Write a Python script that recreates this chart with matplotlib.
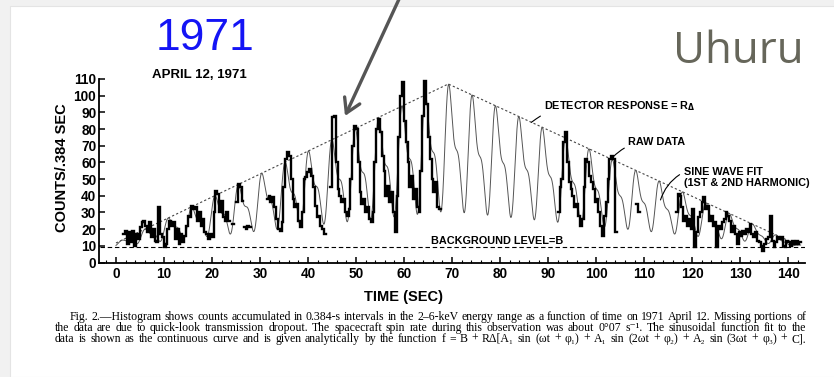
import matplotlib.pyplot as plt
import numpy as np
from matplotlib.patches import Rectangle

W, H = 834, 377

# histogram bin width (s) and background level B (counts / .384 s)
BIN = 0.384
BACKGROUND = 9.3

# detector response R_delta (triangle)
resp_t = [0.0, 69.2, 142.0]
resp_v = [11.7, 107.0, 10.5]

# sine wave fit, 1st & 2nd harmonic
spin_period = 4.87
peak_t0 = 69.3
harm_amp = [1.0, 0.45]
fit_floor = 0.22
fit_span = [0.0, 142.6]

# raw data: start time of each stretch and counts per 0.384-s bin
raw_start_1 = 1.5
raw_counts_1 = [17, 19, 11, 18, 12, 19, 10, 17, 14, 21, 24, 25, 22, 18, 24, 15,
                20, 13, 12, 33, 17, 15, 9, 11, 20, 25, 22, 24, 14, 20, 11, 17,
                12, 16, 22, 28, 27, 34, 32, 33, 25, 30, 22, 26, 18, 17, 14, 17,
                15, 30, 43, 41, 30, 37, 27, 25, 30, 25]
raw_start_2 = 24.1
raw_counts_2 = [23]
raw_start_3 = 25.0
raw_counts_3 = [36, 47, 45, 37]
raw_start_4 = 26.6
raw_counts_4 = [21, 20, 22, 21]
raw_start_5 = 31.4
raw_counts_5 = [38, 40, 36, 39, 33, 26, 20, 19, 24, 45, 62, 66, 64, 50, 38, 33,
                35, 25, 21, 30, 50, 51, 54, 56, 52, 45, 34, 27, 28, 22, 20, 17]
raw_start_6 = 44.6
raw_counts_6 = [45, 87, 88, 60, 44, 40, 36, 38, 30, 28, 32, 50, 70, 82, 80, 60,
                42, 35, 38, 30, 33, 26, 24, 30, 60, 80, 86, 78, 64, 55, 40, 46,
                36, 42, 30, 18, 40, 75, 100, 108, 85, 72, 60, 45, 52, 38, 44, 33,
                30, 55, 88, 109, 95, 75, 62, 50, 42, 48, 33, 32]
raw_start_7 = 92.0
raw_counts_7 = [30, 45, 50, 72, 78, 60, 48, 44, 40, 33, 35, 28, 22, 26, 45, 62,
                60, 52, 48, 44, 36, 38, 30, 22, 16, 28, 36, 50, 62, 64, 62, 18]
raw_start_8 = 108.4
raw_counts_8 = [35, 30]
raw_start_9 = 116.6
raw_counts_9 = [30, 41, 40, 33, 25, 28, 22, 26, 20, 32, 9, 18, 27, 30, 36, 39,
                32, 34, 25, 28, 22, 24, 9, 22, 20, 24, 26, 30, 28, 25, 18, 22,
                17, 11, 18, 16, 19, 17, 20, 18, 23, 17, 15, 18, 13, 12, 10, 7,
                11, 14, 15, 28, 13, 9, 12, 15, 14, 15, 10, 9, 13, 12, 10, 13,
                11, 13, 11, 12]

raw_starts = [raw_start_1, raw_start_2, raw_start_3, raw_start_4, raw_start_5,
              raw_start_6, raw_start_7, raw_start_8, raw_start_9]
raw_counts = [raw_counts_1, raw_counts_2, raw_counts_3, raw_counts_4, raw_counts_5,
              raw_counts_6, raw_counts_7, raw_counts_8, raw_counts_9]

x_ticks = list(range(0, 141, 10))
y_ticks = list(range(0, 111, 10))

caption = [
    "Fig. 2.\u2014Histogram shows counts accumulated in 0.384-s intervals in the 2\u20136-keV energy range as a function of time on 1971 April 12. Missing portions of",
    "the data are due to quick-look transmission dropout. The spacecraft spin rate during this observation was about 0\u00b007 s\u207b\u00b9. The sinusoidal function fit to the",
    "data is shown as the continuous curve and is given analytically by the function f = B + R\u0394[A\u2081 sin (\u03c9t + \u03c6\u2081) + A\u2081 sin (2\u03c9t + \u03c6\u2082) + A\u2082 sin (3\u03c9t + \u03c6\u2083) + C].",
]

sans = ['Liberation Sans', 'DejaVu Sans']
serif = ['Liberation Serif', 'DejaVu Serif']


def px(x, y):
    return x / W, 1 - y / H


fig = plt.figure(figsize=(W / 100, H / 100), dpi=100, facecolor='#f1f1f1')
fig.patches.append(Rectangle(px(10, 377), 1, (377 - 6) / H, transform=fig.transFigure,
                             facecolor='white', edgecolor='#e4e4e4', lw=0.8, zorder=-5))

ax = fig.add_axes([99 / W, 1 - 262.5 / H, (805 - 99) / W, (262.5 - 79) / H])
ax.set_facecolor('none')
ax.set_xlim(-3.54, 143.5)
ax.set_ylim(0, 110)

# fitted curve
t = np.linspace(fit_span[0], fit_span[1], 4000)
ph = np.linspace(0, 2 * np.pi, 2000)
h = sum(a * np.sin((k + 1) * ph) for k, a in enumerate(harm_amp))
ph_max = ph[np.argmax(h)]
omega = 2 * np.pi / spin_period
hh = sum(a * np.sin((k + 1) * (omega * (t - peak_t0) + ph_max)) for k, a in enumerate(harm_amp))
hn = (hh - h.min()) / (h.max() - h.min())
env = np.interp(t, resp_t, resp_v)
fit = BACKGROUND + (env - BACKGROUND) * (fit_floor + (1 - fit_floor) * hn)
ax.plot(t, fit, color='#555555', lw=0.7, zorder=2)

# raw histogram
for start, counts in zip(raw_starts, raw_counts):
    edges = start + BIN * np.arange(len(counts) + 1)
    ax.step(edges, counts + [counts[-1]], where='post', color='black', lw=1.7,
            solid_joinstyle='miter', zorder=3)

# detector response and background
ax.plot(resp_t, resp_v, color='#444444', lw=0.8, dashes=(2, 2), zorder=1)
ax.plot([-3.3, 143.5], [BACKGROUND, BACKGROUND], color='black', lw=0.8,
        dashes=(4, 2.5), zorder=1)

for s in ['top', 'right']:
    ax.spines[s].set_visible(False)
for s in ['left', 'bottom']:
    ax.spines[s].set_linewidth(1.3)
ax.set_xticks(x_ticks)
ax.set_yticks(y_ticks)
ax.set_xticks(np.arange(-2, 143, 2), minor=True)
ax.tick_params(axis='both', which='major', direction='in', length=4, width=1.1,
               labelsize=9.8, pad=3)
ax.tick_params(axis='y', pad=2)
ax.tick_params(axis='x', which='minor', direction='in', length=2, width=0.8)
for lab in ax.get_xticklabels() + ax.get_yticklabels():
    lab.set_family(sans)
    lab.set_fontweight('bold')

fig.text(*px(62, 168), 'COUNTS/.384 SEC', rotation=90, ha='center', va='center',
         family=sans, fontweight='bold', fontsize=10.5)
fig.text(*px(403, 297), 'TIME (SEC)', ha='center', va='center', family=sans,
         fontweight='bold', fontsize=10.5)

# annotations
lbl = dict(family=sans, fontweight='bold', fontsize=7.8, va='center')
ax.annotate(r'DETECTOR RESPONSE = R$_\mathbf{\Delta}$', xy=(86.5, 84), xytext=(89.2, 94),
            ha='left', arrowprops=dict(arrowstyle='-', lw=0.8, color='black',
                                       connectionstyle='arc3,rad=0.25',
                                       shrinkA=1, shrinkB=0), **lbl)
ax.annotate('RAW DATA', xy=(103.6, 63.5), xytext=(106.7, 72), ha='left',
            arrowprops=dict(arrowstyle='-', lw=0.8, color='black',
                            connectionstyle='arc3,rad=0.25', shrinkA=1, shrinkB=0), **lbl)
ax.annotate('SINE WAVE FIT\n(1ST & 2ND HARMONIC)', xy=(113.4, 37.5), xytext=(118.2, 51),
            ha='left', linespacing=1.05,
            arrowprops=dict(arrowstyle='-', lw=0.8, color='black',
                            connectionstyle='arc3,rad=0.2', shrinkA=1, shrinkB=0,
                            relpos=(0, 0.75)), **lbl)
ax.text(65.7, 12.6, 'BACKGROUND LEVEL=B', ha='left', **lbl)

fig.text(*px(199, 75), 'APRIL 12, 1971', ha='center', va='center', family=sans,
         fontweight='bold', fontsize=9.5)
fig.text(*px(205, 38), '1971', ha='center', va='center', family=sans,
         fontsize=32, color='#1414f5')
fig.text(*px(738, 52), 'Uhuru', ha='center', va='center', family=['Open Sans'] + sans,
         fontsize=31.5, color='#66665a')

ax.annotate('', xy=(345, H - 116), xytext=(400, H + 3), xycoords='figure pixels',
            textcoords='figure pixels', annotation_clip=False,
            arrowprops=dict(arrowstyle='->,head_length=1.0,head_width=0.6', lw=2.4,
                            color='#555555', shrinkA=0, shrinkB=0))


# justified caption
def justify(line, x0, x1, y, size):
    words = line.split(' ')
    arts = [fig.text(0, 1 - y / H, w, fontsize=size, family=serif, va='center')
            for w in words]
    r = fig.canvas.get_renderer()
    widths = [a.get_window_extent(r).width for a in arts]
    gap = (x1 - x0 - sum(widths)) / (len(words) - 1)
    x = x0
    for a, w in zip(arts, widths):
        a.set_x(x / W)
        x += w + gap


justify(caption[0], 70, 806, 317, 8.5)
justify(caption[1], 55, 806, 328, 8.5)
justify(caption[2], 55, 806, 339, 8.5)

fig.savefig('out.png', dpi=100, facecolor=fig.get_facecolor())
